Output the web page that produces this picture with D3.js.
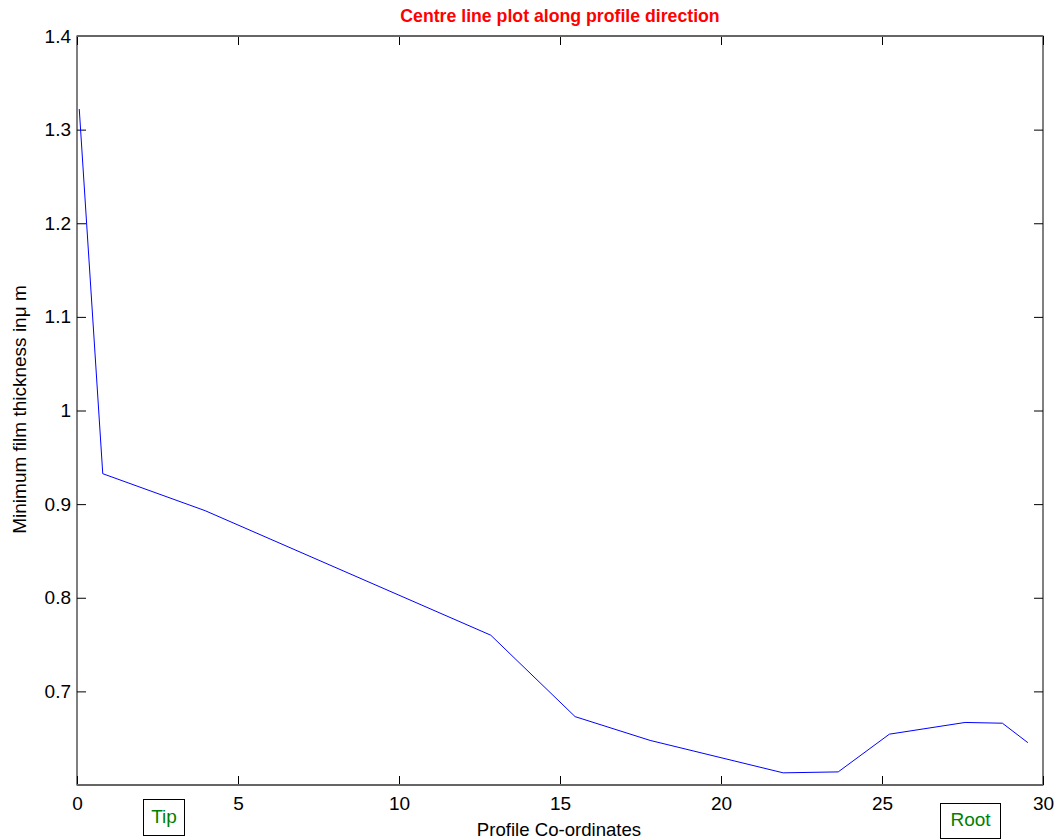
<!DOCTYPE html>
<html>
<head>
<meta charset="utf-8">
<script src="https://cdn.jsdelivr.net/npm/d3@7"></script>
<style>
  html, body { margin: 0; padding: 0; background: #fff; }
  svg { display: block; font-family: "Liberation Sans", Arial, sans-serif; }
</style>
</head>
<body>
<svg id="chart" width="1058" height="840"></svg>
<script>
// Centre-line profile: coordinate along the profile and minimum film thickness (µm)
const profileX = [0.07, 0.80, 3.98, 12.85, 15.47, 17.80, 21.93, 23.64, 25.23, 27.58, 28.74, 29.53];
const filmThickness = [1.322, 0.9325, 0.893, 0.760, 0.673, 0.6476, 0.613, 0.614, 0.6543, 0.6668, 0.666, 0.6452];

const xTicks = [0, 5, 10, 15, 20, 25, 30];
const yTicks = [0.7, 0.8, 0.9, 1.0, 1.1, 1.2, 1.3, 1.4];
const xDomain = [0, 30];
const yDomain = [0.6, 1.4];

const titleText = "Centre line plot along profile direction";
const xLabel = "Profile Co-ordinates";
const endTexts = ["Tip", "Root"];

// Layout of the boxed end annotations (box left, top, width, height, text baseline)
const endBoxes = [
  { x: 143, y: 799, w: 41, h: 36, base: 823 },
  { x: 940, y: 803, w: 60, h: 35, base: 826 }
];

const margin = { left: 77, top: 36, right: 1043, bottom: 785 };
const svg = d3.select("#chart");

const x = d3.scaleLinear().domain(xDomain).range([margin.left, margin.right]);
const y = d3.scaleLinear().domain(yDomain).range([margin.bottom, margin.top]);

const tickLen = 9;
const fmt = d => (Math.abs(d - 1) < 1e-9 ? "1" : d.toFixed(1));

// Inward ticks on all four sides, labels on left and bottom only
const gBottom = svg.append("g").attr("transform", `translate(0,${margin.bottom})`)
  .call(d3.axisBottom(x).tickValues(xTicks).tickSizeInner(-tickLen).tickSizeOuter(0).tickPadding(12).tickFormat(d3.format("d")));
const gTop = svg.append("g").attr("transform", `translate(0,${margin.top})`)
  .call(d3.axisTop(x).tickValues(xTicks).tickSizeInner(-tickLen).tickSizeOuter(0).tickFormat(""));
const gLeft = svg.append("g").attr("transform", `translate(${margin.left},0)`)
  .call(d3.axisLeft(y).tickValues(yTicks).tickSizeInner(-tickLen).tickSizeOuter(0).tickPadding(6).tickFormat(fmt));
const gRight = svg.append("g").attr("transform", `translate(${margin.right},0)`)
  .call(d3.axisRight(y).tickValues(yTicks).tickSizeInner(-tickLen).tickSizeOuter(0).tickFormat(""));

[gBottom, gTop, gLeft, gRight].forEach(g => {
  g.select(".domain").remove();
  g.selectAll(".tick line").attr("stroke", "#000").attr("stroke-width", 1);
  g.selectAll(".tick text").attr("fill", "#000").attr("font-size", 19)
    .attr("font-family", "'Liberation Sans', Arial, sans-serif");
});
gBottom.selectAll(".tick text").attr("dy", "0.71em");

// Axes box
svg.append("rect")
  .attr("x", margin.left).attr("y", margin.top)
  .attr("width", margin.right - margin.left).attr("height", margin.bottom - margin.top)
  .attr("fill", "none").attr("stroke", "#000").attr("stroke-width", 1);
svg.append("line").attr("x1", margin.left).attr("x2", margin.right)
  .attr("y1", margin.top).attr("y2", margin.top).attr("stroke", "#666").attr("stroke-width", 2);
svg.append("line").attr("x1", margin.left).attr("x2", margin.right)
  .attr("y1", margin.bottom).attr("y2", margin.bottom).attr("stroke", "#666").attr("stroke-width", 2);

// Profile line
const line = d3.line().x((d, i) => x(profileX[i])).y(d => y(d));
svg.append("path")
  .datum(filmThickness)
  .attr("d", line)
  .attr("fill", "none")
  .attr("stroke", "#0000ff")
  .attr("stroke-width", 1);

// Title
svg.append("text")
  .attr("x", (margin.left + margin.right) / 2).attr("y", 22)
  .attr("text-anchor", "middle")
  .attr("fill", "#ff0000").attr("font-weight", "bold").attr("font-size", 17.7)
  .text(titleText);

// X label
svg.append("text")
  .attr("x", (margin.left + margin.right) / 2 - 1).attr("y", 836)
  .attr("text-anchor", "middle").attr("font-size", 18.6).attr("fill", "#000")
  .text(xLabel);

// Y label with Greek mu
const yl = svg.append("text")
  .attr("transform", `translate(26,${(margin.top + margin.bottom) / 2 - 1}) rotate(-90)`)
  .attr("text-anchor", "middle").attr("font-size", 19).attr("fill", "#000");
yl.append("tspan").text("Minimum film thickness in");
yl.append("tspan").text("\u03bc m");

// Tip / Root boxed annotations
endTexts.forEach((txt, i) => {
  const b = endBoxes[i];
  svg.append("rect")
    .attr("x", b.x + 0.5).attr("y", b.y + 0.5)
    .attr("width", b.w).attr("height", b.h)
    .attr("fill", "none").attr("stroke", "#000").attr("stroke-width", 1);
  svg.append("text")
    .attr("x", b.x + b.w / 2 + 0.5).attr("y", b.base)
    .attr("text-anchor", "middle").attr("font-size", 19).attr("fill", "#008000")
    .text(txt);
});
</script>
</body>
</html>
